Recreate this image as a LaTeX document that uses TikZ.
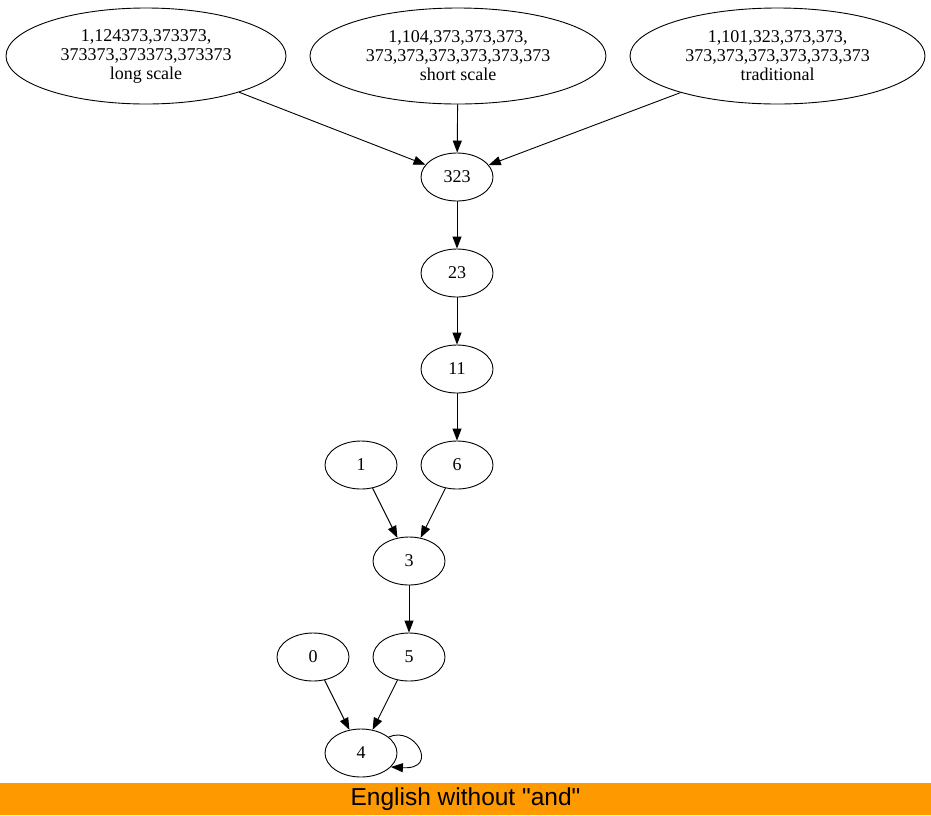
\documentclass[tikz,border=0pt]{standalone}
\usepackage{fontspec}
\setmainfont{Liberation Serif}
\newfontfamily\bannerfont{Liberation Sans}
\usepackage{xcolor}
\usepackage{tikz}
\usetikzlibrary{shapes.geometric,arrows.meta}
\definecolor{bannerorange}{HTML}{FF9900}

\begin{document}
\begin{tikzpicture}[
  x=1pt, y=-1pt,
  state/.style={draw, ellipse, line width=0.9pt, inner sep=0pt,
                minimum width=72pt, minimum height=48pt,
                font=\fontsize{18}{19}\selectfont},
  big/.style={state, minimum width=282pt, minimum height=96pt, align=center},
  arrow/.style={-{Triangle[length=12pt,width=9pt]}, line width=0.9pt},
  banner/.style={fill=bannerorange, minimum width=931pt, minimum height=32pt,
                 inner sep=0pt, font=\bannerfont\fontsize{24.5}{26}\selectfont},
]
\useasboundingbox (0,0) rectangle (931,815);

% Noeuds
\node[big, minimum width=280pt] (long)  at (146,56)   {1,124373,373373,\\373373,373373,373373\\long scale};
\node[big, minimum width=296pt] (short) at (458,56)   {1,104,373,373,373,\\373,373,373,373,373,373\\short scale};
\node[big, minimum width=295pt] (trad)  at (777.5,56) {1,101,323,373,373,\\373,373,373,373,373,373\\traditional};
\node[state] (n323) at (457,177) {323};
\node[state] (n23)  at (457,273) {23};
\node[state] (n11)  at (457,369) {11};
\node[state] (n1)   at (361,465) {1};
\node[state] (n6)   at (457,465) {6};
\node[state] (n3)   at (409,561) {3};
\node[state] (n0)   at (313,657) {0};
\node[state] (n5)   at (409,657) {5};
\node[state] (n4)   at (361,753) {4};

% Fl\`eches
\draw[arrow] (long)  -- (n323);
\draw[arrow] (short) -- (n323);
\draw[arrow] (trad)  -- (n323);
\draw[arrow] (n323) -- (n23);
\draw[arrow] (n23)  -- (n11);
\draw[arrow] (n11)  -- (n6);
\draw[arrow] (n1)   -- (n3);
\draw[arrow] (n6)   -- (n3);
\draw[arrow] (n3)   -- (n5);
\draw[arrow] (n0)   -- (n4);
\draw[arrow] (n5)   -- (n4);
\draw[arrow] (n4.30) .. controls (415,725) and (440,770) .. (n4.-25);

% Titre
\node[banner] (title) at (465.5,799) {English without "and"};

\end{tikzpicture}
\end{document}
